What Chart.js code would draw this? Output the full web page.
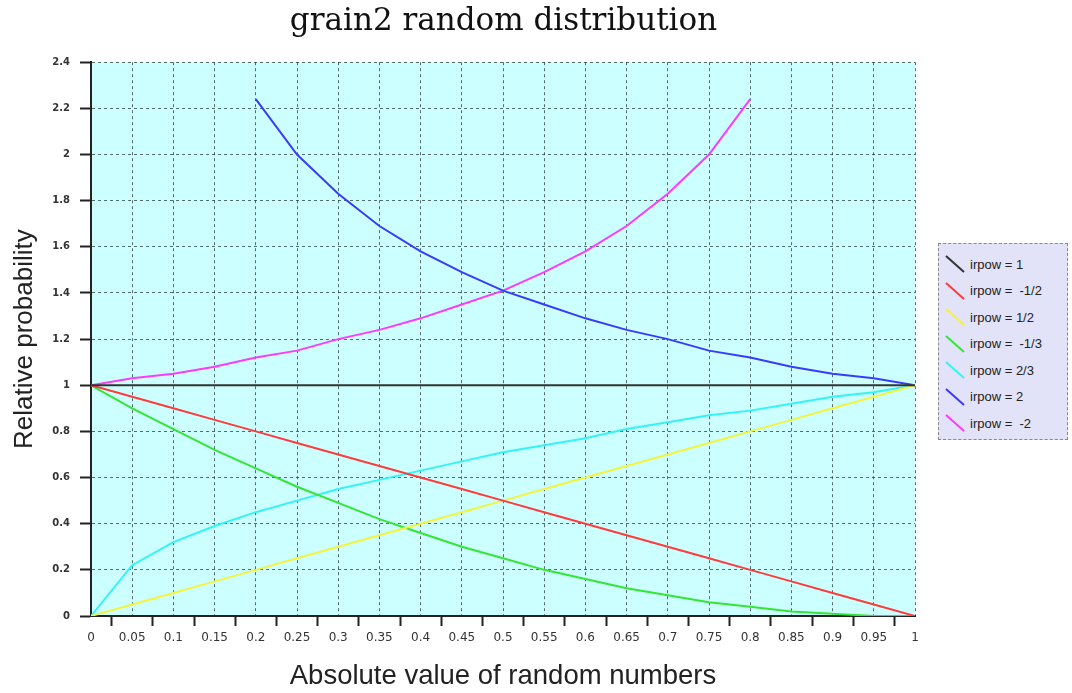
<!DOCTYPE html>
<html lang="en">
<head>
  <meta charset="UTF-8">
  <title>grain2 random distribution</title>
  <script src="https://cdn.jsdelivr.net/npm/chart.js"></script>
  <style>
    body { margin: 0; background: #fff; font-family: "Liberation Sans", Arial, sans-serif; }
    #wrap { position: relative; width: 1072px; height: 693px; }
    #legend { position: absolute; left: 938px; top: 243px; width: 130px; height: 197px;
              background: #e2e2f8; border: 1px dashed #888; box-sizing: border-box; padding-top: 7px; }
    .item { height: 26.5px; display: flex; align-items: center; font-size: 13px; color: #222; white-space: pre; }
    .item svg { margin: 0 5px 0 6px; }
  </style>
</head>
<body>
<div id="wrap">
  <canvas id="chart" width="1072" height="693"></canvas>
  <div id="legend"></div>
</div>
<script>
  const xValues = [0, 0.05, 0.1, 0.15, 0.2, 0.25, 0.3, 0.35, 0.4, 0.45, 0.5,
                   0.55, 0.6, 0.65, 0.7, 0.75, 0.8, 0.85, 0.9, 0.95, 1];
  const xTickLabels = ['0', '0.05', '0.1', '0.15', '0.2', '0.25', '0.3', '0.35', '0.4', '0.45', '0.5',
                       '0.55', '0.6', '0.65', '0.7', '0.75', '0.8', '0.85', '0.9', '0.95', '1'];
  const yTickLabels = ['0', '0.2', '0.4', '0.6', '0.8', '1', '1.2', '1.4', '1.6', '1.8', '2', '2.2', '2.4'];

  const seriesNames = ['irpow = 1', 'irpow =  -1/2', 'irpow = 1/2', 'irpow =  -1/3', 'irpow = 2/3', 'irpow = 2', 'irpow =  -2'];
  const seriesColors = ['#333333', '#ff3b3b', '#f4f43a', '#33e633', '#33f4f4', '#3a3aff', '#ff3aff'];

  const pow1      = [1, 1, 1, 1, 1, 1, 1, 1, 1, 1, 1, 1, 1, 1, 1, 1, 1, 1, 1, 1, 1];
  const powMHalf  = [1, 0.95, 0.9, 0.85, 0.8, 0.75, 0.7, 0.65, 0.6, 0.55, 0.5,
                     0.45, 0.4, 0.35, 0.3, 0.25, 0.2, 0.15, 0.1, 0.05, 0];
  const powHalf   = [0, 0.05, 0.1, 0.15, 0.2, 0.25, 0.3, 0.35, 0.4, 0.45, 0.5,
                     0.55, 0.6, 0.65, 0.7, 0.75, 0.8, 0.85, 0.9, 0.95, 1];
  const powMThird = [1, 0.9, 0.81, 0.72, 0.64, 0.56, 0.49, 0.42, 0.36, 0.3, 0.25,
                     0.2, 0.16, 0.12, 0.09, 0.06, 0.04, 0.02, 0.01, 0, 0];
  const pow2Third = [0, 0.22, 0.32, 0.39, 0.45, 0.5, 0.55, 0.59, 0.63, 0.67, 0.71,
                     0.74, 0.77, 0.81, 0.84, 0.87, 0.89, 0.92, 0.95, 0.97, 1];
  const pow2      = [null, null, null, null, 2.24, 2.0, 1.83, 1.69, 1.58, 1.49, 1.41,
                     1.35, 1.29, 1.24, 1.2, 1.15, 1.12, 1.08, 1.05, 1.03, 1];
  const powM2     = [1, 1.03, 1.05, 1.08, 1.12, 1.15, 1.2, 1.24, 1.29, 1.35, 1.41,
                     1.49, 1.58, 1.69, 1.83, 2.0, 2.24, null, null, null, null];

  const series = [pow1, powMHalf, powHalf, powMThird, pow2Third, pow2, powM2];

  const datasets = series.map((vals, i) => ({
    label: seriesNames[i],
    data: vals.map((v, j) => ({ x: xValues[j], y: v })),
    borderColor: seriesColors[i],
    borderWidth: 2,
    pointRadius: 0,
    tension: 0,
    fill: false,
    spanGaps: false
  }));

  // cyan plot area
  const plotBg = {
    id: 'plotBg',
    beforeDraw(chart) {
      const a = chart.chartArea, ctx = chart.ctx;
      ctx.save();
      ctx.fillStyle = '#ccffff';
      ctx.fillRect(a.left, a.top, a.right - a.left, a.bottom - a.top);
      ctx.restore();
    }
  };

  const gridColor = 'rgba(40,60,60,0.75)';

  new Chart(document.getElementById('chart'), {
    type: 'line',
    data: { datasets: datasets },
    plugins: [plotBg],
    options: {
      responsive: false,
      animation: false,
      // right padding + empty right axis keep the title centred over the plot
      layout: { padding: { left: 0, right: 65, top: 0, bottom: 0 } },
      plugins: {
        legend: { display: false },
        tooltip: { enabled: false },
        title: {
          display: true,
          text: 'grain2 random distribution',
          color: '#111',
          font: { family: '"DejaVu Serif", serif', size: 31, weight: 'normal' },
          padding: { top: 3, bottom: 22 }
        }
      },
      scales: {
        x: {
          type: 'linear',
          min: 0, max: 1,
          afterFit(s) { s.height = 77; },
          // even ticks carry the labels and grid lines, odd (half-step) ticks carry the tick marks
          afterBuildTicks(s) {
            const t = [];
            xValues.forEach((v, i) => {
              t.push({ value: v });
              if (i < xValues.length - 1) t.push({ value: (v + xValues[i + 1]) / 2 });
            });
            s.ticks = t;
          },
          ticks: {
            color: '#333', font: { family: '"DejaVu Sans", sans-serif', size: 12 }, padding: 5,
            autoSkip: false, maxRotation: 0,
            callback: (v, i) => (i % 2 === 0 ? xTickLabels[i / 2] : '')
          },
          grid: {
            color: c => (c.index % 2 === 0 ? gridColor : 'rgba(0,0,0,0)'),
            tickColor: c => (c.index % 2 === 1 ? '#222' : 'rgba(0,0,0,0)'),
            tickLength: 10, tickBorderDash: [], tickWidth: 2
          },
          border: { display: true, color: '#222', width: 2, dash: [3, 3] },
          title: {
            display: true,
            text: 'Absolute value of random numbers',
            color: '#222',
            font: { family: '"Liberation Sans", Arial, sans-serif', size: 27.5 },
            padding: { top: 0, bottom: 0 }
          }
        },
        y: {
          min: 0, max: 2.4,
          afterFit(s) { s.width = 91; },
          afterBuildTicks(s) { s.ticks = yTickLabels.map(t => ({ value: parseFloat(t) })); },
          ticks: {
            color: '#333', font: { family: '"DejaVu Sans", sans-serif', size: 10, weight: 'bold' }, padding: 10,
            callback: (v, i) => yTickLabels[i]
          },
          grid: { color: gridColor, tickColor: '#222', tickLength: 11, tickBorderDash: [], tickWidth: 2 },
          border: { display: true, color: '#222', width: 2, dash: [3, 3] },
          title: {
            display: true,
            text: 'Relative probability',
            color: '#222',
            font: { family: '"Liberation Sans", Arial, sans-serif', size: 26 },
            padding: { top: 9, bottom: 0 }
          }
        },
        yRight: {
          position: 'right',
          afterFit(s) { s.width = 92; },
          ticks: { display: false },
          grid: { display: false, drawOnChartArea: false },
          border: { display: false }
        }
      }
    }
  });

  // legend with diagonal line markers
  const legend = document.getElementById('legend');
  seriesNames.forEach((name, i) => {
    const row = document.createElement('div');
    row.className = 'item';
    row.innerHTML = '<svg width="20" height="18"><line x1="1" y1="1" x2="19" y2="17" stroke="' +
      seriesColors[i] + '" stroke-width="2"/></svg><span>' + name + '</span>';
    legend.appendChild(row);
  });
</script>
</body>
</html>
